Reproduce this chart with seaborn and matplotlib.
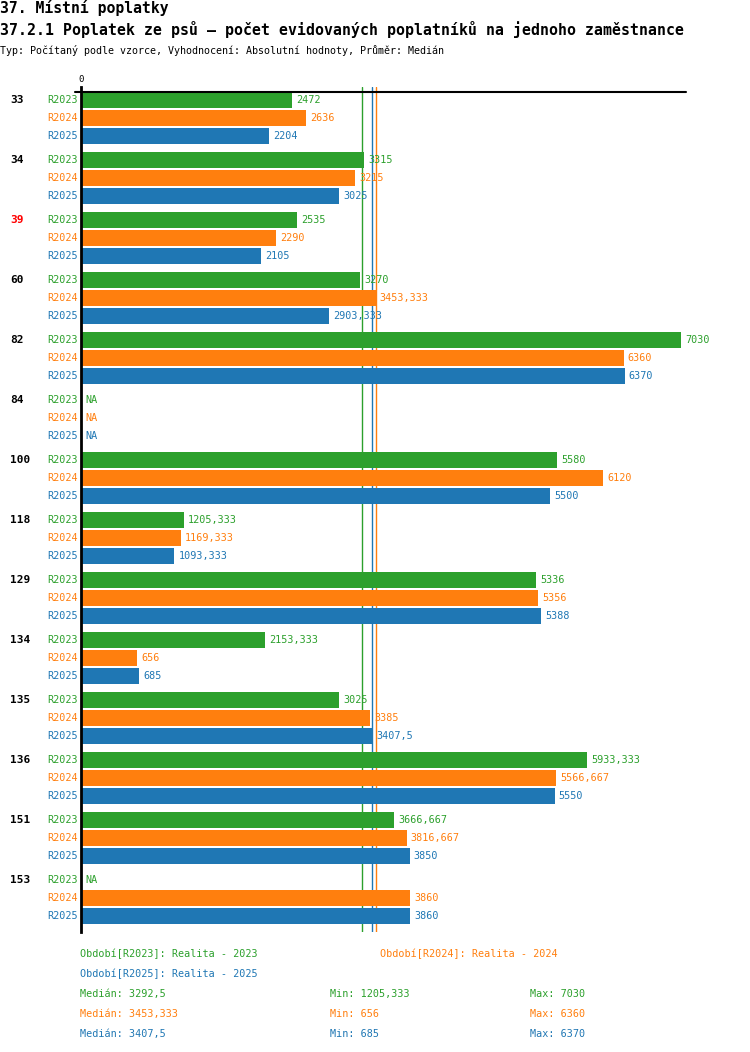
import numpy as np
import pandas as pd
import matplotlib
matplotlib.use("Agg")
import matplotlib.pyplot as plt
import matplotlib.transforms as mtransforms
import seaborn as sns

# -------------------------------
# data
# -------------------------------
groups = ["33", "34", "39", "60", "82", "84", "100", "118", "129", "134", "135", "136", "151", "153"]
series = ["R2023", "R2024", "R2025"]
r2023 = [2472, 3315, 2535, 3270, 7030, np.nan, 5580, 1205.333, 5336, 2153.333, 3025, 5933.333, 3666.667, np.nan]
r2024 = [2636, 3215, 2290, 3453.333, 6360, np.nan, 6120, 1169.333, 5356, 656, 3385, 5566.667, 3816.667, 3860]
r2025 = [2204, 3025, 2105, 2903.333, 6370, np.nan, 5500, 1093.333, 5388, 685, 3407.5, 5550, 3850, 3860]
period_names = ["Realita - 2023", "Realita - 2024", "Realita - 2025"]
highlight = "39"

colors = ["#2ca02c", "#ff7f0e", "#1f77b4"]
values = [r2023, r2024, r2025]

rows = []
for s, vals in zip(series, values):
    for g, v in zip(groups, vals):
        rows.append({"group": g, "series": s, "value": v})
df = pd.DataFrame(rows)


def fmt(v):
    if np.isnan(v):
        return "NA"
    s = f"{v:.3f}".rstrip("0").rstrip(".")
    return s.replace(".", ",")


# -------------------------------
# figure
# -------------------------------
sns.set_style("white")
plt.rcParams["font.family"] = ["DejaVu Sans Mono", "DejaVu Sans"]
plt.rcParams["text.color"] = "black"

W, H = 750, 1052
fig = plt.figure(figsize=(W / 100, H / 100), dpi=100)
ax_left, ax_right, ax_top, ax_bottom = 81, 686, 87, 932
ax = fig.add_axes([ax_left / W, 1 - ax_bottom / H, (ax_right - ax_left) / W, (ax_bottom - ax_top) / H])

sns.barplot(data=df, x="value", y="group", hue="series", order=groups, hue_order=series,
            palette=colors, orient="h", width=0.9, gap=0.111, errorbar=None,
            legend=False, saturation=1, linewidth=0, edgecolor="none", ax=ax, zorder=2)

xmax = 7090
ax.set_xlim(0, xmax)
y0 = -(118 - ax_top) / 60
ax.set_ylim((ax_bottom - 118) / 60, y0)

for sp in ["top", "right", "bottom"]:
    ax.spines[sp].set_visible(False)
ax.spines["left"].set_color("black")
ax.spines["left"].set_linewidth(2)
ax.spines["left"].set_zorder(5)
ax.set_xticks([])
ax.set_yticks([])
ax.set_xlabel("")
ax.set_ylabel("")

# top baseline
ytop = -(118 - 92) / 60
ax.plot([-6 / 605 * xmax, xmax], [ytop, ytop], color="black", lw=1.5, clip_on=False, zorder=3)
ax.text(0, ytop - 0.13, "0", ha="center", va="bottom", fontsize=6.5, color="black")

# median lines
medians = [np.nanmedian(v) for v in values]
mins = [np.nanmin(v) for v in values]
maxs = [np.nanmax(v) for v in values]
for m, c in zip(medians, colors):
    ax.axvline(m, color=c, lw=1, zorder=1)

# labels
offs = [-0.3, 0.0, 0.3]
trans_lab = mtransforms.blended_transform_factory(ax.transAxes, ax.transData)
px = 1 / (ax_right - ax_left)
for i, g in enumerate(groups):
    ax.text((10 - ax_left) * px, i - 0.3, g, transform=trans_lab,
            ha="left", va="center", fontsize=8, fontweight="bold",
            color="red" if g == highlight else "black")
    for j, (s, vals, c) in enumerate(zip(series, values, colors)):
        y = i + offs[j]
        ax.text(-3 * px, y, s, transform=trans_lab, ha="right", va="center",
                fontsize=7.3, color=c)
        v = vals[i]
        xv = 0 if np.isnan(v) else v
        ax.annotate(fmt(v), (xv, y), xytext=(3, 0), textcoords="offset points",
                    ha="left", va="center", fontsize=7.3, color=c, zorder=4)

# titles
fig.text(0, 1 - 8 / H, "37. Místní poplatky", ha="left", va="center",
         fontsize=10.6, fontweight="bold")
fig.text(0, 1 - 30 / H,
         "37.2.1 Poplatek ze psů – počet evidovaných poplatníků na jednoho zaměstnance",
         ha="left", va="center", fontsize=10.7, fontweight="bold")
fig.text(0, 1 - 50 / H,
         "Typ: Počítaný podle vzorce, Vyhodnocení: Absolutní hodnoty, Průměr: Medián",
         ha="left", va="center", fontsize=7.2)

# footer legend
fs = 7.3
fig.text(80 / W, 1 - 954 / H, f"Období[{series[0]}]: {period_names[0]}", color=colors[0], fontsize=fs, va="center")
fig.text(380 / W, 1 - 954 / H, f"Období[{series[1]}]: {period_names[1]}", color=colors[1], fontsize=fs, va="center")
fig.text(80 / W, 1 - 974 / H, f"Období[{series[2]}]: {period_names[2]}", color=colors[2], fontsize=fs, va="center")
for k, c in enumerate(colors):
    yy = 1 - (994 + 20 * k) / H
    fig.text(80 / W, yy, f"Medián: {fmt(medians[k])}", color=c, fontsize=fs, va="center")
    fig.text(330 / W, yy, f"Min: {fmt(mins[k])}", color=c, fontsize=fs, va="center")
    fig.text(530 / W, yy, f"Max: {fmt(maxs[k])}", color=c, fontsize=fs, va="center")

fig.savefig("out.png", dpi=100)
